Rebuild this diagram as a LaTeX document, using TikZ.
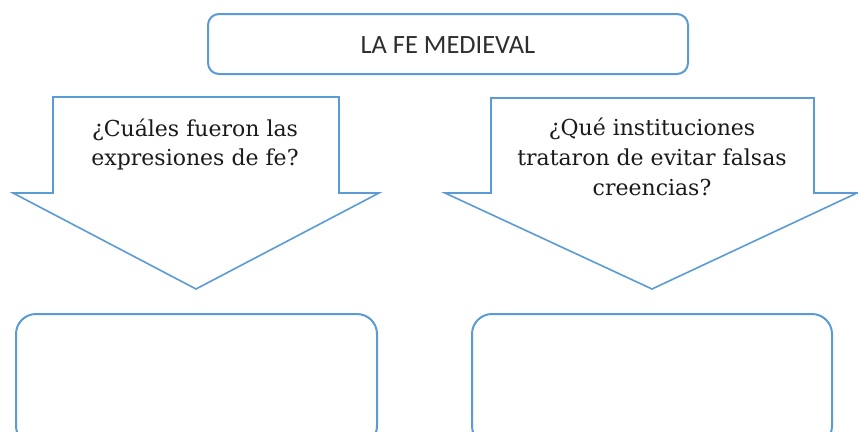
\documentclass[tikz,border=0pt]{standalone}
\usepackage{fontspec}
\newfontfamily\titlefont{Carlito}
\newfontfamily\questionfont{DejaVu Serif}
\definecolor{officeblue}{HTML}{5B9BD5}
\definecolor{inktext}{HTML}{1A1A1A}
\definecolor{lighttext}{HTML}{2E2E2E}
\tikzset{
  x=1pt, y=-1pt,
  bluebox/.style={draw=officeblue, line width=2pt, rounded corners=#1, fill=white},
  bluearrow/.style={draw=officeblue, line width=1.6pt, line join=miter, fill=white},
  titletext/.style={font=\titlefont\fontsize{26.4}{30}\selectfont, text=lighttext},
  qtext/.style={font=\questionfont\fontsize{22}{29}\selectfont, text=inktext, align=center, inner sep=0pt}
}
\begin{document}
\begin{tikzpicture}
\useasboundingbox (0,0) rectangle (858,431);
\clip (0,0) rectangle (858,431);
% title
\draw[bluebox=11pt] (208,14) rectangle (688,74);
\node[titletext, anchor=base] (title) at (448,53) {LA FE MEDIEVAL};
% left arrow
\draw[bluearrow] (53,97) -- (339,97) -- (339,193) -- (379,193) -- (196,289) -- (13,193) -- (53,193) -- cycle;
\node[qtext, anchor=base] (q1a) at (195,136) {¿Cuáles fueron las};
\node[qtext, anchor=base] (q1b) at (195,165) {expresiones de fe?};
% right arrow
\draw[bluearrow] (491,98) -- (814,98) -- (814,193) -- (857,193) -- (652,289) -- (445,193) -- (491,193) -- cycle;
\node[qtext, anchor=base] (q2a) at (652,135) {¿Qué instituciones};
\node[qtext, anchor=base] (q2b) at (652,165) {trataron de evitar falsas};
\node[qtext, anchor=base] (q2c) at (652,195) {creencias?};
% answer boxes
\draw[bluebox=20pt] (16,314) rectangle (377,446);
\draw[bluebox=20pt] (472,314) rectangle (832,446);
\end{tikzpicture}
\end{document}
